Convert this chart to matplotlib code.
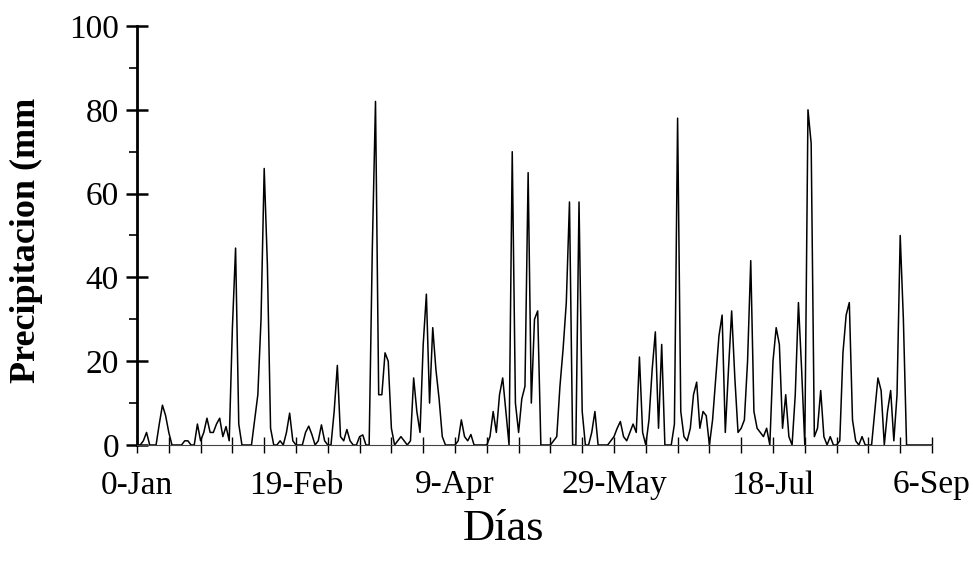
import numpy as np
import matplotlib
matplotlib.use("Agg")
import matplotlib.pyplot as plt
from matplotlib.ticker import MultipleLocator, FixedLocator

# daily rainfall (mm), day 0 = 0-Jan
precip = [
    0, 0, 1, 3, 0, 0, 0, 5, 9.5, 7,
    3, 0, 0, 0, 0, 1, 1, 0, 0, 5,
    1, 3, 6.4, 3, 3, 5, 6.4, 2, 4.4, 1,
    28, 47, 5, 0, 0, 0, 0, 6, 12, 30,
    66, 43, 4, 0, 0, 1, 0, 3, 7.6, 1,
    0, 0, 0, 3, 4.5, 2.5, 0, 1, 4.8, 1,
    0, 0, 8, 19, 2, 1, 3.7, 1, 0, 0,
    2, 2.4, 0, 0, 47, 82, 12, 12, 22, 20,
    4, 0, 1, 2, 1, 0, 1, 16, 8, 3,
    24, 36, 10, 28, 18, 11, 2, 0, 0, 0,
    0, 1, 6, 2, 1, 2.5, 0, 0, 0, 0,
    0, 2, 8, 3, 12, 16, 8, 0, 70, 10,
    3, 11, 14, 65, 10, 30, 32, 0, 0, 0,
    0, 1, 2, 14, 23, 34, 58, 0, 0, 58,
    8, 0, 0, 3, 8, 0, 0, 0, 0, 1,
    2, 4, 5.6, 2, 1, 3, 5, 3, 21, 3,
    0, 6, 18, 27, 4, 24, 0, 0, 0, 5,
    78, 8, 2, 1, 4, 12, 15, 4, 8, 7,
    0, 6, 16, 26, 31, 3, 18, 32, 16, 3,
    4, 6, 20, 44, 8, 4, 3, 2, 4, 0,
    20, 28, 24, 4, 12, 2, 0, 12, 34, 18,
    0, 80, 72, 2, 4, 13, 2, 0, 2, 0,
    0, 1, 22, 31, 34, 6, 1, 0, 2, 0,
    0, 0, 8, 16, 13, 0, 8, 13, 1, 12,
    50, 30, 0, 0, 0, 0, 0, 0, 0, 0, 0,
]
days = np.arange(len(precip))

tick_days = [0, 50, 100, 150, 200, 250]
tick_labels = ["0-Jan", "19-Feb", "9-Apr", "29-May", "18-Jul", "6-Sep"]

plt.rcParams['font.family'] = ['Liberation Serif', 'DejaVu Serif']

fig = plt.figure(figsize=(9.73, 5.68), dpi=100)
ax = fig.add_axes([137/973, 1 - 445/568, (932 - 137)/973, (445 - 26)/568])

ax.plot(days, precip, color='black', linewidth=1.1)

ax.set_xlim(0, 250)
ax.set_ylim(0, 100)

ax.spines['top'].set_visible(False)
ax.spines['right'].set_visible(False)
ax.spines['left'].set_linewidth(2.0)
ax.spines['bottom'].set_linewidth(0.8)
ax.spines['bottom'].set_color('#444444')

ax.xaxis.set_major_locator(FixedLocator(tick_days))
ax.set_xticklabels(tick_labels)
ax.xaxis.set_minor_locator(MultipleLocator(10))
ax.yaxis.set_major_locator(MultipleLocator(20))
ax.yaxis.set_minor_locator(MultipleLocator(10))

ax.tick_params(axis='x', which='both', direction='inout', length=12, width=1.0,
               labelsize=24, pad=12)
ax.tick_params(axis='y', which='major', direction='inout', length=16, width=1.8,
               labelsize=24, pad=5)
ax.tick_params(axis='y', which='minor', direction='out', length=6, width=1.2)

fig.text(26/973, 1 - 240/568, "Precipitacion (mm", rotation=90,
         ha='center', va='center', fontsize=26, fontweight='bold')
fig.text(504/973, 1 - 529/568, "Días", ha='center', va='center', fontsize=32)

fig.savefig("out.png", dpi=100)
